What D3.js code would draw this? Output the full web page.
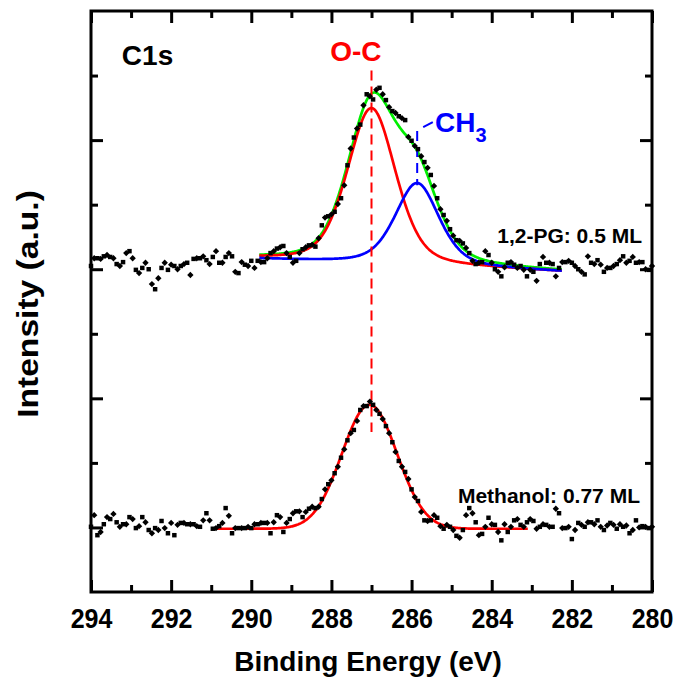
<!DOCTYPE html>
<html lang="en">
<head>
<meta charset="utf-8">
<title>C1s XPS</title>
<script src="https://d3js.org/d3.v7.min.js"></script>
<style>
    body { margin: 0; background: #fff; }
    text { font-family: "Liberation Sans", Arial, sans-serif; font-weight: bold; }
    .axis path { display: none; }
    .axis line { stroke: #000; stroke-width: 3px; }
    .axis text { font-size: 25px; fill: #000; }
</style>
</head>
<body>
<svg id="chart" width="673" height="678"></svg>
<script>
// binding energy grid of the measured spectra (eV)
var eStart = 294.0, eStep = 0.08;

// 1,2-PG 0.5 ML spectrum (a.u., offset)
var pg05 = [4.05,4.17,4.17,4.16,4.20,4.22,4.19,4.17,4.08,4.05,
    4.11,4.25,4.28,4.17,3.99,3.94,4.02,4.10,4.00,3.77,
    3.69,3.86,4.02,4.10,3.99,4.07,4.05,4.00,4.05,4.08,
    4.10,3.91,4.16,4.17,4.17,4.20,4.14,4.08,4.19,4.28,
    4.10,4.10,4.19,4.25,4.20,3.96,3.94,4.11,4.07,4.05,
    4.13,4.02,4.13,4.11,4.11,4.17,4.25,4.28,4.32,4.34,
    4.36,4.25,4.19,4.10,4.13,4.25,4.31,4.34,4.37,4.38,
    4.35,4.48,4.68,4.80,4.82,4.85,4.89,5.01,5.10,5.30,
    5.61,5.87,6.04,6.18,6.24,6.54,6.71,6.68,6.63,6.78,
    6.81,6.71,6.62,6.51,6.45,6.42,6.37,6.34,6.31,6.05,
    5.99,5.91,5.86,5.75,5.66,5.57,5.46,5.29,5.10,4.93,
    4.84,4.75,4.62,4.52,4.45,4.44,4.40,4.33,4.25,4.13,
    4.08,4.10,4.11,4.28,4.22,4.10,4.00,3.96,3.89,4.03,
    4.10,4.11,4.07,4.02,4.05,3.99,3.89,3.99,3.96,3.82,
    4.08,4.19,4.10,4.10,4.08,3.89,4.02,4.11,4.11,4.13,
    4.10,4.05,4.00,3.96,3.92,4.20,4.10,4.08,4.14,4.07,
    3.96,4.02,4.02,4.05,4.08,4.14,4.20,4.10,4.13,4.19,
    4.10,4.11,4.11,4.00,3.99,4.05];

// Methanol 0.77 ML spectrum (a.u.)
var methanol = [0.01,0.19,-0.12,-0.07,0.05,0.16,0.13,0.21,0.08,0.01,
    0.05,0.05,0.16,0.13,-0.01,0.02,0.16,0.08,-0.04,-0.09,
    -0.01,-0.04,0.10,-0.01,-0.09,0.07,-0.12,0.04,0.07,0.07,
    0.05,0.05,0.05,0.02,0.01,0.11,0.22,0.11,-0.02,-0.01,
    0.02,0.07,0.30,0.18,-0.09,-0.01,-0.01,-0.01,-0.01,0.01,
    -0.01,0.05,0.05,0.07,0.07,0.07,-0.09,0.08,0.19,0.16,
    -0.07,0.07,0.13,0.22,0.25,0.25,0.16,0.24,0.29,0.32,
    0.30,0.32,0.44,0.59,0.67,0.73,0.84,0.94,1.08,1.21,
    1.35,1.46,1.51,1.65,1.82,1.88,1.88,1.95,1.90,1.82,
    1.76,1.68,1.57,1.46,1.32,1.17,1.03,0.94,0.86,0.75,
    0.59,0.47,0.41,0.24,0.11,0.10,0.11,0.19,0.15,0.02,
    -0.02,0.04,0.01,-0.04,-0.13,-0.16,-0.04,0.19,0.30,0.22,
    0.08,-0.12,-0.10,0.01,0.15,0.05,0.04,-0.07,-0.20,0.05,
    -0.07,0.01,0.11,0.13,0.04,0.01,0.08,0.13,0.10,-0.02,
    0.01,0.05,0.04,0.01,0.01,0.29,0.22,-0.01,-0.01,0.01,
    -0.18,-0.04,0.07,0.04,0.01,0.08,0.08,0.05,0.11,0.01,
    -0.04,0.03,0.07,0.04,-0.02,0.05,0.01,0.03,-0.09,-0.04,
    0.11,0.00,0.02,0.01,-0.01,0.01];

// fitted peaks: [center eV, height, FWHM eV, lorentz fraction]
var ocPG = [287.0, 2.41, 1.42, 0.35];
var ch3PG = [285.86, 1.28, 1.3, 0.45];
var ocMeOH = [287.05, 1.92, 1.62, 0.0];
// fit ranges (eV) and linear backgrounds [E1, bg1, E2, bg2]
var pgRange = [289.8, 282.25], pgBg = [289.8, 4.16, 282.25, 3.96];
var meohRange = [291.0, 283.1], meohBg = [291.0, -0.02, 283.1, -0.02];

var xMajor = [294, 292, 290, 288, 286, 284, 282, 280];
var xMinor = [293, 291, 289, 287, 285, 283, 281];
var yMajor = [0, 2, 4, 6];
var yMinor = [1, 3, 5, 7];

var svg = d3.select("#chart");
var x = d3.scaleLinear().domain([294, 280]).range([91, 652]);
var y = d3.scaleLinear().domain([-1, 8]).range([592, 11]);

function peak(p, e) {
    var d = (e - p[0]) / p[2];
    var g = Math.exp(-4 * Math.LN2 * d * d);
    var l = 1 / (1 + 4 * d * d);
    return p[1] * ((1 - p[3]) * g + p[3] * l);
}
function bg(b, e) {
    return b[1] + (e - b[0]) / (b[2] - b[0]) * (b[3] - b[1]);
}
function grid(r) {
    return d3.range(r[0], r[1] - 0.001, -0.02).concat([r[1]]);
}

var line = d3.line().x(function(d) { return x(d[0]); }).y(function(d) { return y(d[1]); });

// fit curves
var fits = [
    { col: "#00ee00", pts: grid(pgRange).map(function(e) { return [e, bg(pgBg, e) + peak(ocPG, e) + peak(ch3PG, e)]; }) },
    { col: "#ff0000", pts: grid(pgRange).map(function(e) { return [e, bg(pgBg, e) + peak(ocPG, e)]; }) },
    { col: "#0000ff", pts: grid(pgRange).map(function(e) { return [e, bg(pgBg, e) + peak(ch3PG, e)]; }) },
    { col: "#ff0000", pts: grid(meohRange).map(function(e) { return [e, bg(meohBg, e) + peak(ocMeOH, e)]; }) }
];
svg.selectAll("path.fit").data(fits).enter().append("path")
    .attr("class", "fit")
    .attr("d", function(d) { return line(d.pts); })
    .attr("fill", "none")
    .attr("stroke", function(d) { return d.col; })
    .attr("stroke-width", 2.7);

// marker lines
svg.append("line")
    .attr("x1", x(287.0)).attr("x2", x(287.0))
    .attr("y1", y(7.08)).attr("y2", y(1.48))
    .attr("stroke", "#ff0000").attr("stroke-width", 2).attr("stroke-dasharray", "10,6");
svg.append("line")
    .attr("x1", x(285.86)).attr("x2", x(285.86))
    .attr("y1", y(6.14)).attr("y2", y(5.30))
    .attr("stroke", "#0000ff").attr("stroke-width", 2).attr("stroke-dasharray", "10,6");
svg.append("line")
    .attr("x1", x(285.71)).attr("x2", x(285.47))
    .attr("y1", y(6.20)).attr("y2", y(6.28))
    .attr("stroke", "#0000ff").attr("stroke-width", 2);

// data points, squares and diamonds alternating
function drawPoints(vals) {
    var sq = d3.symbol().type(d3.symbolSquare).size(20);
    var di = d3.symbol().type(d3.symbolSquare).size(20);
    svg.append("g").selectAll("path").data(vals).enter().append("path")
        .attr("d", function(d, i) { return i % 2 ? di() : sq(); })
        .attr("transform", function(d, i) {
            var e = eStart - eStep * i;
            return "translate(" + x(e) + "," + y(d) + ")" + (i % 2 ? " rotate(45)" : "");
        })
        .attr("fill", "#000");
}
drawPoints(pg05);
drawPoints(methanol);

// axes with inward ticks
function ax(a, tx, ty) {
    svg.append("g").attr("class", "axis").attr("transform", "translate(" + tx + "," + ty + ")").call(a);
}
ax(d3.axisBottom(x).tickValues(xMajor).tickSize(-12).tickPadding(16).tickFormat(d3.format("d")), 0, 592);
ax(d3.axisBottom(x).tickValues(xMinor).tickSize(-7).tickFormat(""), 0, 592);
ax(d3.axisTop(x).tickValues(xMajor).tickSize(-12).tickFormat(""), 0, 11);
ax(d3.axisTop(x).tickValues(xMinor).tickSize(-7).tickFormat(""), 0, 11);
ax(d3.axisLeft(y).tickValues(yMajor).tickSize(-12).tickFormat(""), 91, 0);
ax(d3.axisLeft(y).tickValues(yMinor).tickSize(-7).tickFormat(""), 91, 0);
ax(d3.axisRight(y).tickValues(yMajor).tickSize(-12).tickFormat(""), 652, 0);
ax(d3.axisRight(y).tickValues(yMinor).tickSize(-7).tickFormat(""), 652, 0);

svg.selectAll(".axis text").attr("transform", "scale(1,1.08)");

svg.append("rect")
    .attr("x", 91).attr("y", 11).attr("width", 561).attr("height", 581)
    .attr("fill", "none").attr("stroke", "#000").attr("stroke-width", 3);

// labels
svg.append("text").attr("x", x(293.23)).attr("y", y(7.16))
    .attr("font-size", 28).text("C1s");
svg.append("text").attr("x", x(287.39)).attr("y", y(7.22))
    .attr("font-size", 28).attr("text-anchor", "middle").attr("fill", "#ff0000").text("O-C");
var ch = svg.append("text").attr("x", x(285.415)).attr("y", y(6.125))
    .attr("font-size", 28).attr("fill", "#0000ff");
ch.append("tspan").text("CH");
ch.append("tspan").attr("font-size", 20).attr("dy", 10).text("3");
svg.append("text").attr("x", x(280.25)).attr("y", y(4.405))
    .attr("font-size", 21).attr("text-anchor", "end").text("1,2-PG: 0.5 ML");
svg.append("text").attr("x", x(280.30)).attr("y", y(0.378))
    .attr("font-size", 21).attr("text-anchor", "end").text("Methanol: 0.77 ML");

svg.append("text").attr("x", 368).attr("y", 671)
    .attr("font-size", 28).attr("text-anchor", "middle").text("Binding Energy (eV)");
svg.append("text").attr("transform", "translate(38,304) rotate(-90) scale(1.12,1)")
    .attr("font-size", 30).attr("text-anchor", "middle").text("Intensity (a.u.)");
</script>
</body>
</html>
